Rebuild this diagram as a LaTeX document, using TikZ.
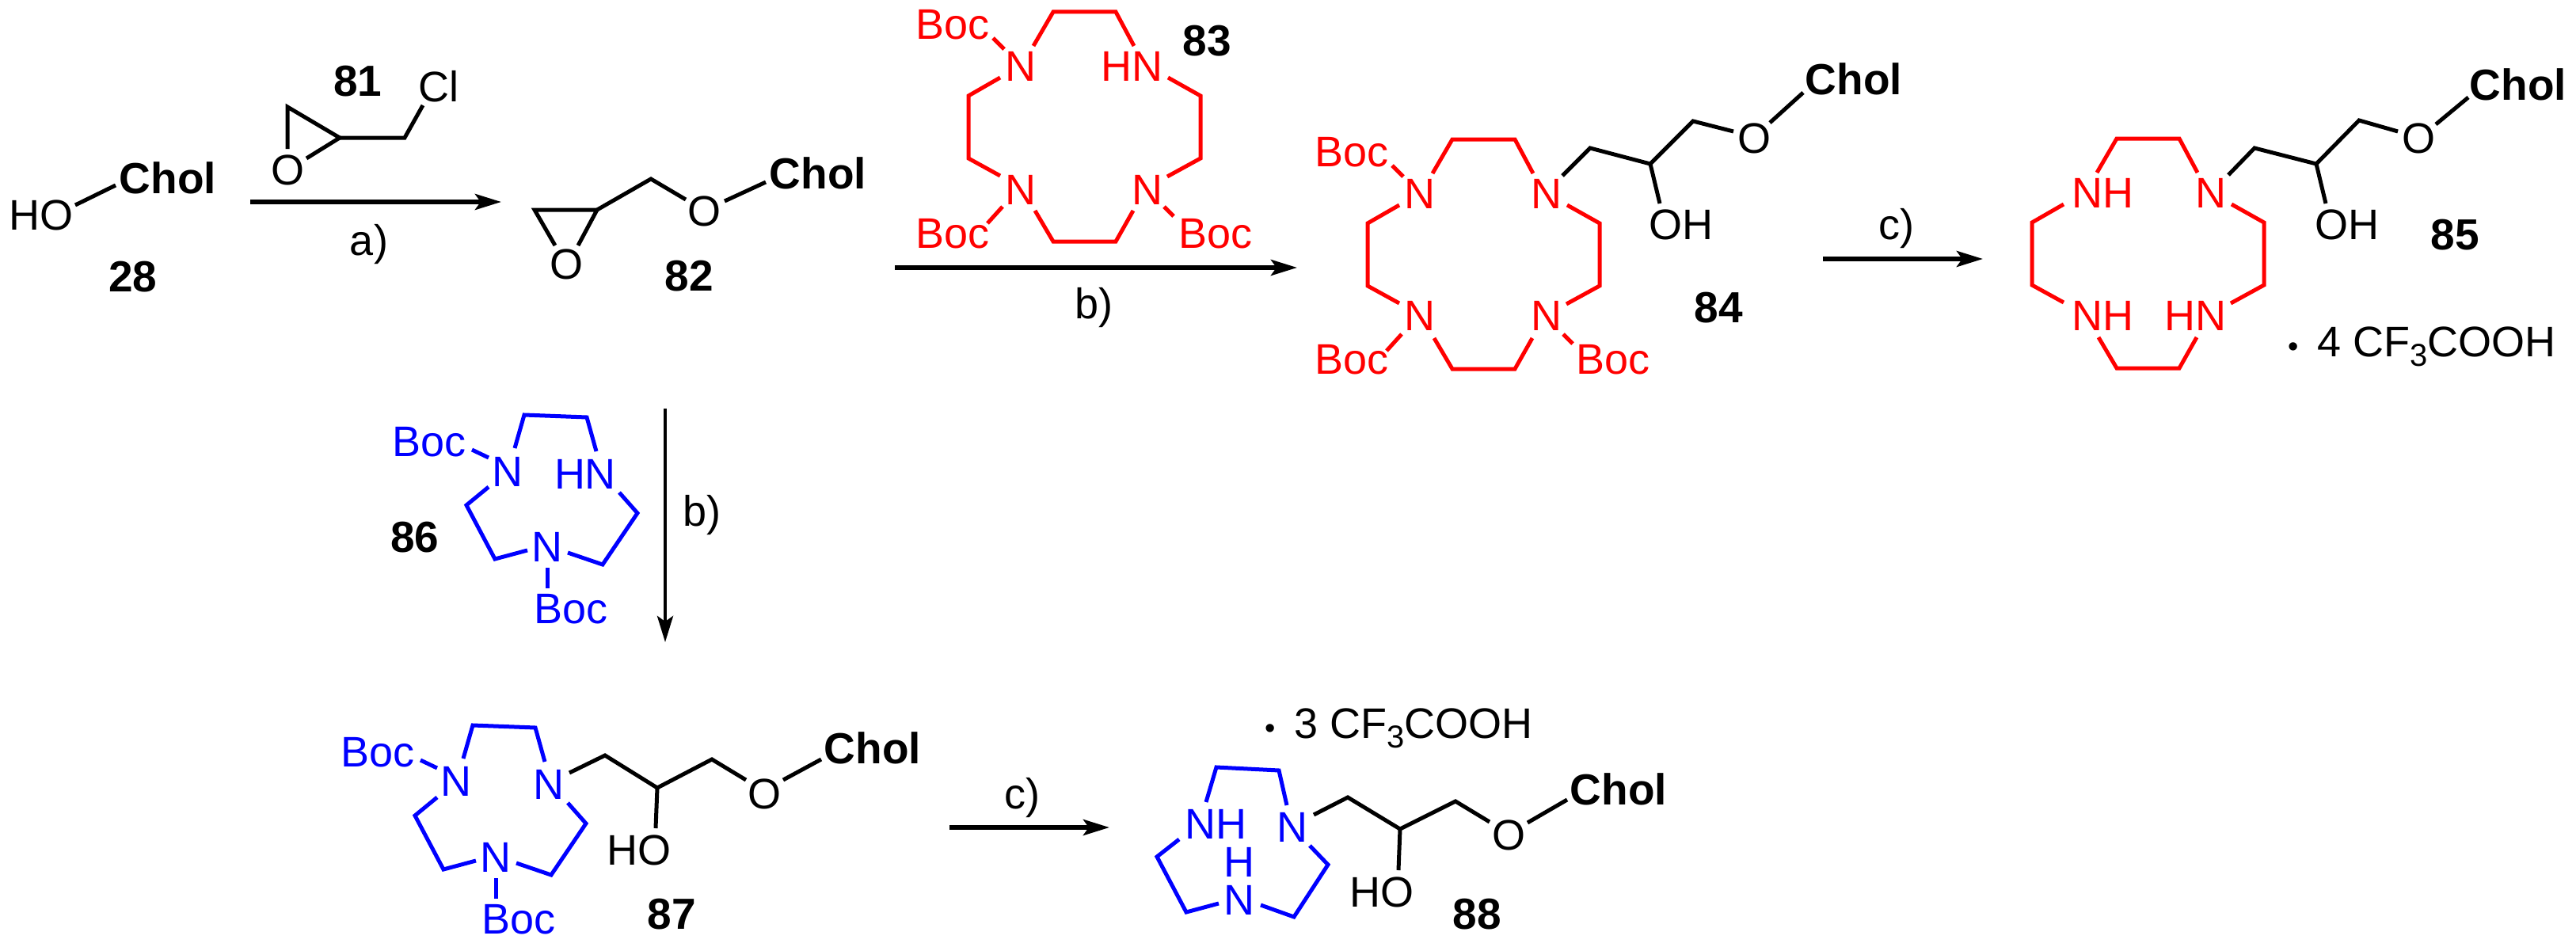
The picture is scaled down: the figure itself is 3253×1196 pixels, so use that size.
\documentclass[tikz,border=0pt]{standalone}
\usepackage{fontspec}
\setmainfont{Liberation Sans}
\usetikzlibrary{arrows.meta}
\definecolor{ringred}{RGB}{255,0,0}
\definecolor{ringblue}{RGB}{0,0,255}
\tikzset{
  bk/.style={line width=5pt,black,line join=miter},
  rd/.style={line width=5pt,ringred,line join=miter},
  bu/.style={line width=5pt,ringblue,line join=miter},
  lab/.style={inner sep=0pt,text height=37pt,text depth=0pt,font=\fontsize{54}{60}\selectfont},
  bd/.style={lab,font=\fontsize{55}{60}\selectfont\bfseries},
  rt/.style={lab,text=ringred},
  bt/.style={lab,text=ringblue},
  rxn/.style={line width=5.5pt,black,-{Stealth[length=33pt,width=20pt,inset=7pt]}},
}
\newcommand{\subthree}{\raisebox{-12pt}{\fontsize{40}{42}\selectfont 3}}
\newcommand{\saltdot}{{\fontsize{38}{40}\selectfont •}\hspace{24pt}}
\newcommand{\tetraring}{%
  \draw[rd] (1305,58)--(1330,15)--(1409,15)--(1432,58);
  \draw[rd] (1475,98)--(1516,121)--(1516,200)--(1474,223);
  \draw[rd] (1431,266)--(1409,305)--(1330,305)--(1307,266);
  \draw[rd] (1263,222)--(1223,200)--(1223,121)--(1263,98);
}
\newcommand{\tribonds}{%
  \draw[bu] (650,566)--(662,524)--(741,527)--(753,570);
  \draw[bu] (782,622)--(805,648)--(761,713)--(717,698);
  \draw[bu] (666,695)--(625,706)--(589,638)--(617,615);
  \draw[bu] (596,568)--(617,578);
  \draw[bu] (691,717)--(691,743);
}
\begin{document}
\begin{tikzpicture}[x=1pt,y=-1pt]
\useasboundingbox (0,0) rectangle (3253,1196);
\fill[white] (0,0) rectangle (3253,1196);

% 28
\node[lab] (ho28) at (52,272) {HO};
\node[bd] (chol28) at (212,226) {Chol};
\node[bd] (l28) at (168,350) {28};
\draw[bk] (95,259)--(146,234);

% 81
\node[bd] (l81) at (452,103) {81};
\node[lab] (cl81) at (554,110) {Cl};
\node[lab] (o81) at (363,215) {O};
\draw[bk] (363,188)--(363,135)--(429,174)--(387,200);
\draw[bk] (429,174)--(511,174)--(534,133);

% arrow a
\coordinate (a1) at (316,255);
\coordinate (a2) at (633,255);
\draw[rxn] (a1)--(a2);
\node[lab] (la) at (466,304) {a)};

% 82
\node[lab] (o82a) at (715,334) {O};
\node[lab] (o82b) at (889,267) {O};
\node[bd] (chol82) at (1033,220) {Chol};
\node[bd] (l82) at (870,349) {82};
\draw[bk] (701,310)--(675,265)--(754,265)--(730,310);
\draw[bk] (754,265)--(822,226)--(866,252);
\draw[bk] (915,254)--(967,230);

% 83
\tetraring
\node[rt] (n83a) at (1289,84) {N};
\node[rt] (n83b) at (1429,84) {HN};
\node[rt] (n83c) at (1289,240) {N};
\node[rt] (n83d) at (1449,240) {N};
\node[rt] (b83a) at (1203,31) {Boc};
\node[rt] (b83b) at (1203,295) {Boc};
\node[rt] (b83c) at (1535,295) {Boc};
\draw[rd] (1254,48)--(1268,62);
\draw[rd] (1266,261)--(1247,282);
\draw[rd] (1470,261)--(1482,273);
\node[bd] (l83) at (1524,52) {83};

% arrow b
\coordinate (b1) at (1130,338);
\coordinate (b2) at (1638,338);
\draw[rxn] (b1)--(b2);
\node[lab] (lb) at (1381,384) {b)};

% 84
\begin{scope}[shift={(504,161)}]
\tetraring
\node[rt] (n84a) at (1289,84) {N};
\node[rt] (n84b) at (1449,84) {N};
\node[rt] (n84c) at (1289,238) {N};
\node[rt] (n84d) at (1449,238) {N};
\node[rt] (b84a) at (1203,31) {Boc};
\node[rt] (b84b) at (1203,293) {Boc};
\node[rt] (b84c) at (1533,293) {Boc};
\draw[rd] (1254,48)--(1268,62);
\draw[rd] (1266,261)--(1247,282);
\draw[rd] (1470,261)--(1482,273);
\end{scope}
\draw[bk] (1973,222)--(2008,187)--(2084,207)--(2138,153)--(2189,166);
\draw[bk] (2084,207)--(2096,257);
\node[lab] (oh84) at (2123,284) {OH};
\node[lab] (o84) at (2215,175) {O};
\draw[bk] (2235,155)--(2277,117);
\node[bd] (chol84) at (2341,101) {Chol};
\node[bd] (l84) at (2170,389) {84};

% arrow c top
\coordinate (c1) at (2302,327);
\coordinate (c2) at (2504,327);
\draw[rxn] (c1)--(c2);
\node[lab] (lc) at (2395,284) {c)};

% 85
\begin{scope}[shift={(1343,160)}]
\tetraring
\end{scope}
\node[rt] (n85a) at (2655,244) {NH};
\node[rt] (n85b) at (2792,244) {N};
\node[rt] (n85c) at (2655,399) {NH};
\node[rt] (n85d) at (2772,399) {HN};
\draw[bk] (2814,221)--(2847,187)--(2925,207)--(2979,152)--(3028,166);
\draw[bk] (2925,207)--(2937,257);
\node[lab] (oh85) at (2964,284) {OH};
\node[lab] (o85) at (3054,175) {O};
\draw[bk] (3076,157)--(3117,123);
\node[bd] (chol85) at (3180,108) {Chol};
\node[bd] (l85) at (3100,297) {85};
\node[lab,anchor=west] (salt85) at (2889,432) {\saltdot 4 CF\subthree COOH};

% vertical arrow b
\coordinate (v1) at (840,516);
\coordinate (v2) at (840,811);
\draw[rxn,line width=4.5pt] (v1)--(v2);
\node[lab] (lv) at (886,646) {b)};

% 86
\tribonds
\node[bt] (b86a) at (542,558) {Boc};
\node[bt] (n86a) at (641,596) {N};
\node[bt] (n86b) at (739,599) {HN};
\node[bt] (n86c) at (691,691) {N};
\node[bt] (b86b) at (721,769) {Boc};
\node[bd] (l86) at (524,679) {86};

% 87
\begin{scope}[shift={(-65,392)}]
\tribonds
\end{scope}
\node[bt] (b87a) at (477,950) {Boc};
\node[bt] (n87a) at (576,987) {N};
\node[bt] (n87b) at (693,991) {N};
\node[bt] (n87c) at (626,1083) {N};
\node[bt] (b87b) at (655,1161) {Boc};
\draw[bk] (719,976)--(764,954)--(830,995)--(899,959)--(942,985);
\draw[bk] (830,995)--(828,1046);
\node[lab] (ho87) at (807,1074) {HO};
\node[lab] (o87) at (965,1003) {O};
\draw[bk] (989,985)--(1037,959);
\node[bd] (chol87) at (1102,946) {Chol};
\node[bd] (l87) at (848,1155) {87};

% arrow c bottom
\coordinate (d1) at (1199,1045);
\coordinate (d2) at (1401,1045);
\draw[rxn] (d1)--(d2);
\node[lab] (ld) at (1291,1003) {c)};

% 88
\node[lab,anchor=west] (salt88) at (1597,914) {\saltdot 3 CF\subthree COOH};
\draw[bu] (1523,1013)--(1536,969)--(1615,973)--(1625,1017);
\draw[bu] (1654,1068)--(1677,1092)--(1634,1158)--(1592,1143);
\draw[bu] (1539,1141)--(1498,1152)--(1461,1082)--(1489,1060);
\node[bt] (n88a) at (1535,1041) {NH};
\node[bt] (n88b) at (1632,1045) {N};
\node[bt,anchor=base] (n88c) at (1565,1155) {\shortstack{H\\[7pt]N}};
\draw[bk] (1659,1029)--(1702,1007)--(1768,1047)--(1838,1012)--(1881,1038);
\draw[bk] (1768,1047)--(1766,1099);
\node[lab] (ho88) at (1745,1127) {HO};
\node[lab] (o88) at (1905,1055) {O};
\draw[bk] (1929,1039)--(1979,1010);
\node[bd] (chol88) at (2044,998) {Chol};
\node[bd] (l88) at (1865,1155) {88};
\end{tikzpicture}
\end{document}
